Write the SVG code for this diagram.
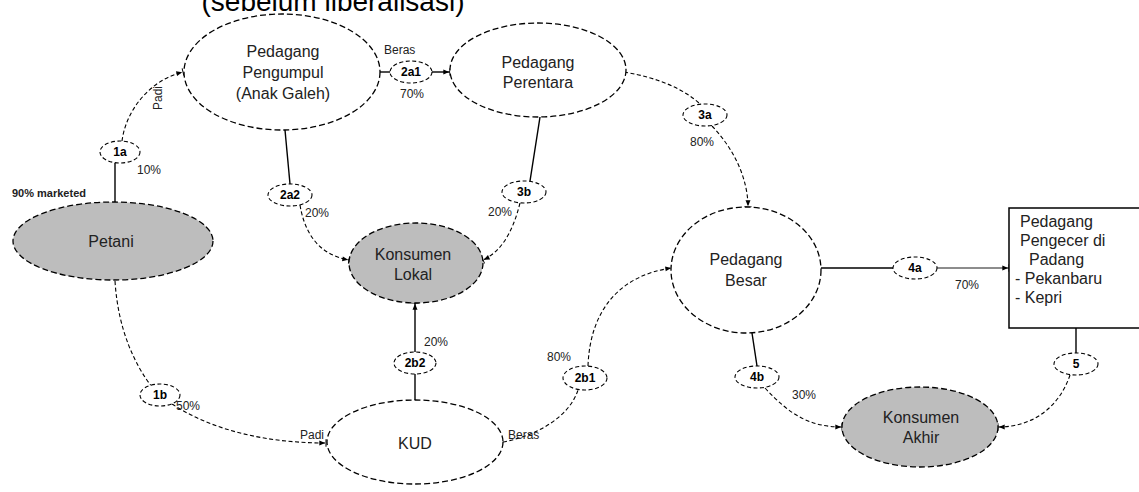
<svg xmlns="http://www.w3.org/2000/svg" width="1139" height="492" viewBox="0 0 1139 492">
  <defs>
    <!-- filled head with a short glue bar at the tip -->
    <marker id="arrow" viewBox="0 0 12 12" refX="10" refY="6" markerWidth="10" markerHeight="10" orient="auto" markerUnits="userSpaceOnUse">
      <path d="M2,3 L9,6 L2,9 z" fill="#000"/>
      <path d="M10,1.5 L10,10.5" stroke="#000" stroke-width="1.2"/>
    </marker>
    <style>
      .node { fill: #fff; stroke: #000; stroke-width: 1.3; stroke-dasharray: 6 3; }
      .node.grey { fill: #bdbdbd; }
      .box { fill: #fff; stroke: #000; stroke-width: 1.5; }
      .tag { fill: #fff; stroke: #000; stroke-width: 1.1; stroke-dasharray: 4 2.5; }
      .lbl { font-family: "Liberation Sans", Arial, sans-serif; font-size: 16px; fill: #222; text-anchor: middle; }
      .tagtxt { font-family: "Liberation Sans", Arial, sans-serif; font-size: 12px; font-weight: bold; fill: #000; text-anchor: middle; }
      .pct { font-family: "Liberation Sans", Arial, sans-serif; font-size: 12px; fill: #222; }
      .solid { fill: none; stroke: #000; stroke-width: 1.4; }
      .thin { fill: none; stroke: #000; stroke-width: 0.9; }
      .dash { fill: none; stroke: #000; stroke-width: 1.1; stroke-dasharray: 4 2.5; }
      .title { font-family: "Liberation Sans", Arial, sans-serif; font-size: 28px; fill: #000; text-anchor: middle; }
    </style>
  </defs>

  <rect width="1139" height="492" fill="#fff"/>

  <!-- heading, partly outside the top edge -->
  <text class="title" x="333" y="11">(sebelum liberalisasi)</text>

  <!-- flows between actors -->
  <g id="connectors">
    <!-- Petani -> 1a -> Pedagang Pengumpul -->
    <path class="solid" d="M115 202 L115 163"/>
    <path class="dash" d="M122 141 C126 110 150 80 183 72" marker-end="url(#arrow)"/>
    <!-- Petani -> 1b -> KUD -->
    <path class="dash" d="M115 281 C118 330 135 365 152 387"/>
    <path class="dash" d="M172 404 C215 432 270 443 326 443" marker-end="url(#arrow)"/>
    <!-- Pengumpul -> 2a1 -> Perantara -->
    <path class="solid" d="M380 72 L390 72"/>
    <path class="solid" d="M432 72 L450 72" marker-end="url(#arrow)"/>
    <!-- Pengumpul -> 2a2 -> Konsumen Lokal -->
    <path class="solid" d="M285 130 L290 184"/>
    <path class="dash" d="M300 205 C305 235 320 255 349 260" marker-end="url(#arrow)"/>
    <!-- Perantara -> 3b -> Konsumen Lokal -->
    <path class="solid" d="M540 117 L530 181"/>
    <path class="dash" d="M520 203 C512 235 500 252 483 260" marker-end="url(#arrow)"/>
    <!-- Perantara -> 3a -> Pedagang Besar -->
    <path class="dash" d="M624 72 C660 78 685 90 700 104"/>
    <path class="dash" d="M712 126 C735 150 748 180 748 207" marker-end="url(#arrow)"/>
    <!-- KUD -> 2b2 -> Konsumen Lokal -->
    <path class="solid" d="M415 400 L415 374"/>
    <path class="solid" d="M415 352 L415 303" marker-end="url(#arrow)"/>
    <!-- KUD -> 2b1 -> Pedagang Besar -->
    <path class="dash" d="M503 442 C540 435 570 415 578 390"/>
    <path class="dash" d="M588 366 C590 310 620 275 672 268" marker-end="url(#arrow)"/>
    <!-- Pedagang Besar -> 4a -> Pengecer -->
    <path class="solid" d="M821 268 L893 268"/>
    <path class="thin" d="M937 268 L1009 268" marker-end="url(#arrow)"/>
    <!-- Pedagang Besar -> 4b -> Konsumen Akhir -->
    <path class="solid" d="M752 333 L757 366"/>
    <path class="dash" d="M765 388 C790 415 810 427 842 427" marker-end="url(#arrow)"/>
    <!-- Pengecer -> 5 -> Konsumen Akhir -->
    <path class="solid" d="M1076 328 L1076 353"/>
    <path class="dash" d="M1070 375 C1060 405 1035 427 998 427" marker-end="url(#arrow)"/>
  </g>

  <!-- actors -->
  <g id="petani">
    <ellipse class="node grey" cx="113" cy="241" rx="100" ry="39"/>
    <text class="lbl" x="111" y="247">Petani</text>
  </g>
  <g id="pedagang-pengumpul">
    <ellipse class="node" cx="282" cy="72" rx="98" ry="58"/>
    <text class="lbl" x="283" y="57">Pedagang</text>
    <text class="lbl" x="283" y="78">Pengumpul</text>
    <text class="lbl" x="283" y="99">(Anak Galeh)</text>
  </g>
  <g id="pedagang-perantara">
    <ellipse class="node" cx="538" cy="70" rx="88" ry="47"/>
    <text class="lbl" x="538" y="68">Pedagang</text>
    <text class="lbl" x="538" y="88">Perentara</text>
  </g>
  <g id="konsumen-lokal">
    <ellipse class="node grey" cx="416" cy="263" rx="67" ry="40"/>
    <text class="lbl" x="413" y="260">Konsumen</text>
    <text class="lbl" x="413" y="280">Lokal</text>
  </g>
  <g id="pedagang-besar">
    <ellipse class="node" cx="746" cy="270" rx="75" ry="63"/>
    <text class="lbl" x="746" y="265">Pedagang</text>
    <text class="lbl" x="746" y="286">Besar</text>
  </g>
  <g id="pedagang-pengecer">
    <rect class="box" x="1009" y="208" width="140" height="120"/>
    <text class="lbl" x="1020" y="227" style="text-anchor:start">Pedagang</text>
    <text class="lbl" x="1020" y="246" style="text-anchor:start">Pengecer di</text>
    <text class="lbl" x="1029" y="265" style="text-anchor:start">Padang</text>
    <text class="lbl" x="1015" y="284" style="text-anchor:start">- Pekanbaru</text>
    <text class="lbl" x="1015" y="303" style="text-anchor:start">- Kepri</text>
  </g>
  <g id="kud">
    <ellipse class="node" cx="415" cy="442" rx="88" ry="42"/>
    <text class="lbl" x="415" y="449">KUD</text>
  </g>
  <g id="konsumen-akhir">
    <ellipse class="node grey" cx="920" cy="427" rx="78" ry="40"/>
    <text class="lbl" x="921" y="423">Konsumen</text>
    <text class="lbl" x="921" y="443">Akhir</text>
  </g>

  <!-- channel tags -->
  <g id="tag-1a"><ellipse class="tag" cx="120" cy="152" rx="20" ry="11"/><text class="tagtxt" x="120" y="156">1a</text></g>
  <g id="tag-1b"><ellipse class="tag" cx="160" cy="395" rx="20" ry="11"/><text class="tagtxt" x="160" y="399">1b</text></g>
  <g id="tag-2a1"><ellipse class="tag" cx="411" cy="72" rx="21" ry="11"/><text class="tagtxt" x="411" y="76">2a1</text></g>
  <g id="tag-2a2"><ellipse class="tag" cx="290" cy="195" rx="22" ry="11"/><text class="tagtxt" x="290" y="199">2a2</text></g>
  <g id="tag-3a"><ellipse class="tag" cx="705" cy="115" rx="22" ry="11"/><text class="tagtxt" x="705" y="119">3a</text></g>
  <g id="tag-3b"><ellipse class="tag" cx="524" cy="192" rx="22" ry="11"/><text class="tagtxt" x="524" y="196">3b</text></g>
  <g id="tag-2b2"><ellipse class="tag" cx="415" cy="363" rx="21" ry="11"/><text class="tagtxt" x="415" y="367">2b2</text></g>
  <g id="tag-2b1"><ellipse class="tag" cx="585" cy="378" rx="22" ry="12"/><text class="tagtxt" x="585" y="382">2b1</text></g>
  <g id="tag-4a"><ellipse class="tag" cx="915" cy="268" rx="22" ry="11"/><text class="tagtxt" x="915" y="272">4a</text></g>
  <g id="tag-4b"><ellipse class="tag" cx="757" cy="377" rx="22" ry="11"/><text class="tagtxt" x="757" y="381">4b</text></g>
  <g id="tag-5"><ellipse class="tag" cx="1076" cy="364" rx="22" ry="11"/><text class="tagtxt" x="1076" y="368">5</text></g>

  <!-- shares and commodities -->
  <g id="flow-labels">
    <text class="pct" x="12" y="197" style="font-weight:bold;font-size:11px">90% marketed</text>
    <text class="pct" x="137" y="174">10%</text>
    <text class="pct" transform="translate(162 110) rotate(-90)">Padi</text>
    <text class="pct" x="384" y="54">Beras</text>
    <text class="pct" x="400" y="98">70%</text>
    <text class="pct" x="305" y="217">20%</text>
    <text class="pct" x="488" y="216">20%</text>
    <text class="pct" x="690" y="146">80%</text>
    <text class="pct" x="424" y="346">20%</text>
    <text class="pct" x="176" y="410">50%</text>
    <text class="pct" x="300" y="439">Padi</text>
    <text class="pct" x="508" y="439">Beras</text>
    <text class="pct" x="547" y="361">80%</text>
    <text class="pct" x="955" y="289">70%</text>
    <text class="pct" x="792" y="399">30%</text>
  </g>
</svg>
